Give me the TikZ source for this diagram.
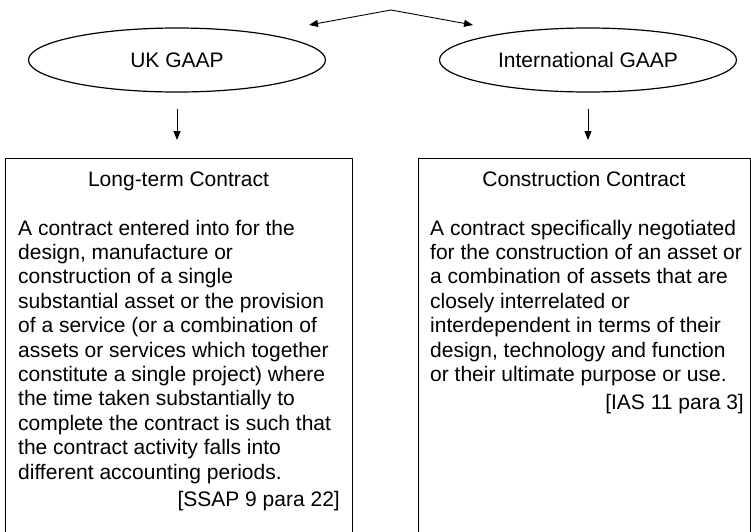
\documentclass[tikz,border=0pt]{standalone}
\usepackage{fontspec}
\setmainfont{Liberation Sans}
\usetikzlibrary{arrows.meta,shapes.geometric}
\begin{document}
\begin{tikzpicture}[x=1pt,y=-1pt,
  font=\fontsize{21}{24.4}\selectfont,
  gaap/.style={draw,ellipse,line width=1.2pt,minimum width=297pt,minimum height=64pt,inner sep=0pt},
  defbox/.style={draw,line width=1.3pt,anchor=north west,inner sep=0pt},
  link/.style={line width=0.9pt,-{Triangle[length=9pt,width=7pt]}},
  bodytext/.style={anchor=north west,align=left,inner sep=0pt},
  reftext/.style={anchor=base east,inner sep=0pt},
  titletext/.style={anchor=base,inner sep=0pt}]
\useasboundingbox (0,0) rectangle (751,531);
\clip (0,0) rectangle (751,531);

% the two sets of accounting standards
\node[gaap] (uk) at (177,60) {UK GAAP};
\node[gaap] (intl) at (588,60) {International GAAP};

% comparison arrow between them
\coordinate (apex) at (391,10);
\coordinate (lefttip) at (309,25);
\coordinate (righttip) at (473,25);
\draw[link] (apex) -- (lefttip);
\draw[link] (apex) -- (righttip);

% definition boxes (open at the bottom edge)
\node[defbox,minimum width=347pt,minimum height=390pt] (ltc) at (5,158) {};
\node[defbox,minimum width=332pt,minimum height=390pt] (cc) at (418,158) {};

\draw[link,shorten <=16pt,shorten >=18pt] (uk.south) -- (uk.south |- ltc.north);
\draw[link,shorten <=16pt,shorten >=18pt] (intl.south) -- (intl.south |- cc.north);

% UK definition
\node[titletext] (ltctitle) at (178.5,186) {Long-term Contract};
\node[bodytext] (ltcbody) at (18,219.7) {A contract entered into for the\\
design, manufacture or\\
construction of a single\\
substantial asset or the provision\\
of a service (or a combination of\\
assets or services which together\\
constitute a single project) where\\
the time taken substantially to\\
complete the contract is such that\\
the contract activity falls into\\
different accounting periods.};
\node[reftext] (ltcref) at (340,506) {[SSAP 9 para 22]};

% international definition
\node[titletext] (cctitle) at (584,186) {Construction Contract};
\node[bodytext] (ccbody) at (430,219.7) {A contract specifically negotiated\\
for the construction of an asset or\\
a combination of assets that are\\
closely interrelated or\\
interdependent in terms of their\\
design, technology and function\\
or their ultimate purpose or use.};
\node[reftext] (ccref) at (744,409) {[IAS 11 para 3]};
\end{tikzpicture}
\end{document}
